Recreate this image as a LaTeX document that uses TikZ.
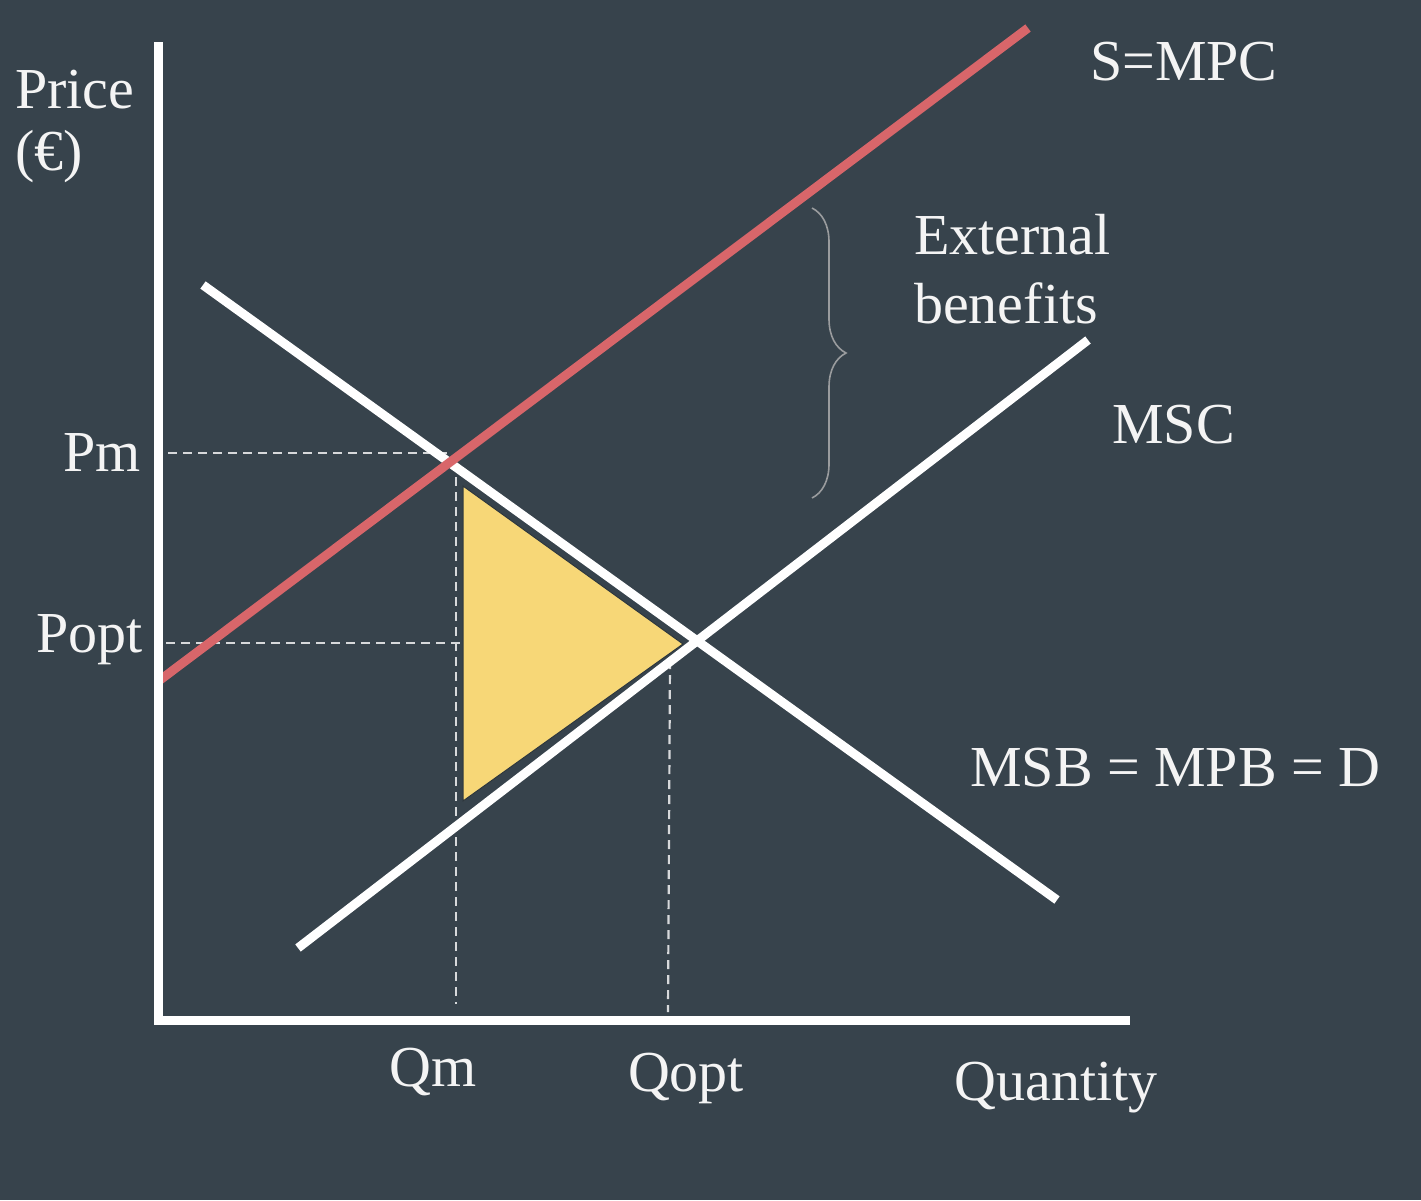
\documentclass[tikz,border=0pt]{standalone}
\usepackage{fontspec}
\setmainfont{Liberation Serif}
\usetikzlibrary{decorations.pathreplacing}
\definecolor{bg}{HTML}{37434C}
\definecolor{redline}{HTML}{D8666A}
\definecolor{tri}{HTML}{F7D777}
\definecolor{txt}{HTML}{F4F4F4}
\definecolor{bracec}{HTML}{9A9C9E}
\begin{document}
\begin{tikzpicture}[x=1pt,y=-1pt,
  lbl/.style={text=txt,font=\fontsize{58}{66}\selectfont,inner sep=0pt},
  axisline/.style={draw=white,line width=9pt},
  curve/.style={draw=white,line width=9pt},
  guide/.style={draw=white!80!bg,line width=2.2pt,dash pattern=on 9pt off 6pt}]
\fill[bg] (0,0) rectangle (1421,1200);
\useasboundingbox (0,0) rectangle (1421,1200);
% coordinates
\coordinate (yt) at (158,42);
\coordinate (o) at (158,1020);
\coordinate (xr) at (1130,1020);
\coordinate (s1) at (160,680);
\coordinate (s2) at (1028,28);
\coordinate (d1) at (203,285);
\coordinate (d2) at (1057,900);
\coordinate (m1) at (298,948);
\coordinate (m2) at (1088,340);
\coordinate (t1) at (463,486);
\coordinate (t2) at (683,644);
\coordinate (t3) at (463,801);
\coordinate (pmL) at (168,453);
\coordinate (pmR) at (452,453);
\coordinate (poL) at (166,643);
\coordinate (poR) at (460,643);
\coordinate (qmT) at (456,462);
\coordinate (qmB) at (456,1004);
\coordinate (qoT) at (670,660);
\coordinate (qoB) at (668,1012);
\coordinate (bT) at (812,208);
\coordinate (bB) at (812,498);
% triangle
\filldraw[fill=tri,draw=bg!80!black,line width=1pt] (t1) -- (t2) -- (t3) -- cycle;
% guides
\draw[guide] (pmL) -- (pmR);
\draw[guide] (poL) -- (poR);
\draw[guide] (qmT) -- (qmB);
\draw[guide] (qoT) -- (qoB);
% curves
\draw[curve] (m1) -- (m2);
\draw[curve] (d1) -- (d2);
\draw[draw=redline,line width=9pt] (s1) -- (s2);
% axes
\draw[axisline] (yt) -- (o) -- (xr);
% brace
\draw[bracec,line width=1.6pt,decorate,decoration={brace,amplitude=34pt}] (bT) -- (bB);
% labels
\node[lbl,anchor=west,align=left] (price) at (15,90) {Price};
\node[lbl,anchor=west] (euro) at (15,157) {(€)};
\node[lbl,anchor=west] (smpc) at (1090,62) {S=MPC};
\node[lbl,anchor=west] (ext) at (914,235) {External};
\node[lbl,anchor=west] (ben) at (914,303) {benefits};
\node[lbl,anchor=west] (msc) at (1112,425) {MSC};
\node[lbl,anchor=west] (msb) at (970,768) {MSB = MPB = D};
\node[lbl,anchor=east] (pm) at (141,453) {Pm};
\node[lbl,anchor=east] (popt) at (143,640) {Popt};
\node[lbl] (qm) at (433,1072) {Qm};
\node[lbl] (qopt) at (686,1078) {Qopt};
\node[lbl] (qty) at (1056,1088) {Quantity};
\end{tikzpicture}
\end{document}
